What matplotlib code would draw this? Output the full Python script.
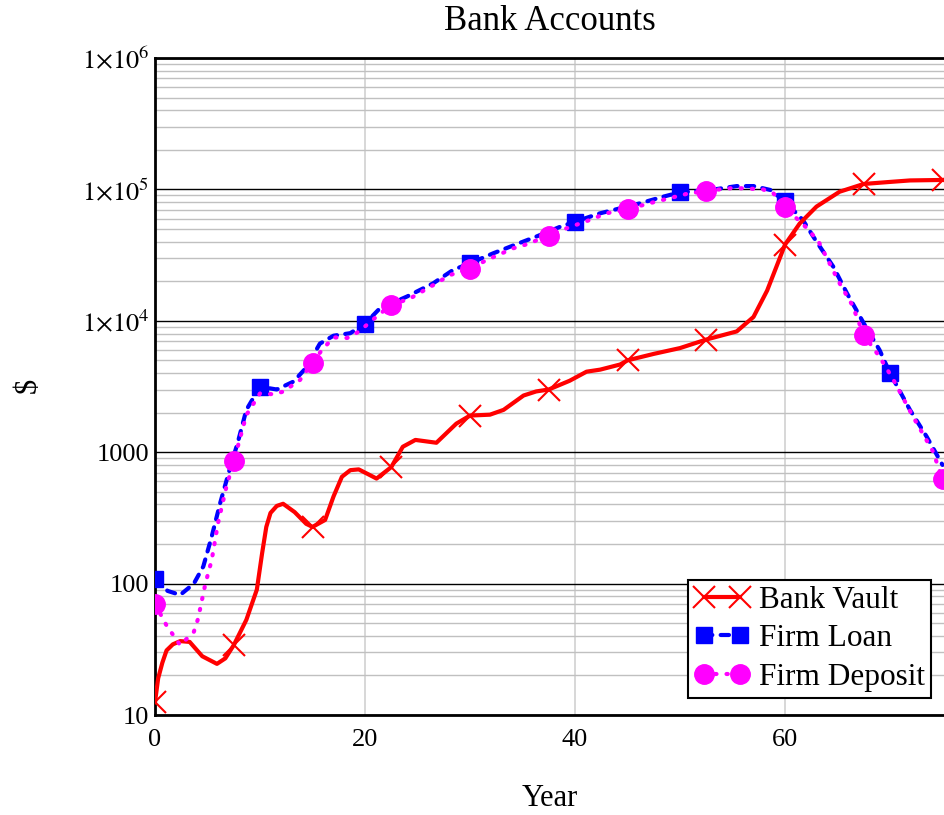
import numpy as np
import matplotlib
matplotlib.use("Agg")
import matplotlib.pyplot as plt

plt.rcParams['font.family'] = ['Liberation Serif', 'DejaVu Serif']
plt.rcParams['mathtext.fontset'] = 'stix'

# Data (year, $)
vault_year = [0, 0.3, 0.7, 1.1, 1.7, 2.4, 3.3, 4.5, 5.9, 6.7, 7.5, 8.7, 9.7, 10.2, 10.6, 11.0, 11.6,
              12.2, 13.3, 14.4, 15, 16.2, 17.0, 17.8, 18.6, 19.4, 20.3, 21.1, 22.5, 23.6, 24.8,
              26.8, 28.7, 30, 31.9, 33.2, 35.1, 36.3, 37.5, 39.5, 41.1, 42.4, 44.3, 45, 47.5,
              50, 52.5, 55.4, 57.0, 58.3, 59.2, 60, 61.4, 63.0, 65.2, 67.5, 70, 71.9, 75]
vault_val = [12.5, 19, 25, 31, 34.5, 36.5, 36, 28, 24.5, 27, 34, 53, 90, 170, 270, 345, 390,
             405, 350, 285, 270, 305, 460, 650, 730, 740, 680, 630, 770, 1100, 1240,
             1180, 1650, 1900, 1930, 2100, 2700, 2900, 3000, 3500, 4100, 4250, 4650, 5000, 5600,
             6200, 7200, 8300, 10700, 17000, 26000, 38000, 55000, 74000, 96000, 110000, 114000, 117000, 118000]

loan_year = [0, 1.2, 2.4, 3.7, 4.6, 5.4, 6.2, 7.0, 7.9, 8.7, 10, 11.6, 13.2, 14.4, 15.7,
             17.0, 18.6, 20, 21.4, 24.0, 26.5, 28.4, 30, 32.2, 34.8, 36.3, 38.6, 40,
             42.4, 44.9, 46.2, 48.4, 50, 52.9, 55.4, 57.0, 58.6, 60, 61.7, 62.9, 64.6,
             65.9, 67.5, 69.0, 70, 71.9, 73.5, 75]
loan_val = [108, 88, 82, 100, 135, 228, 408, 690, 1200, 2100, 3150, 3000, 3450, 4400, 6700,
            7700, 8050, 9500, 12400, 15300, 19300, 24400, 27400, 32600, 39300, 43700, 52000, 56800,
            65800, 73800, 78400, 88000, 95000, 99000, 106000, 106000, 99000, 81000, 58500, 41200, 25800,
            16200, 9570, 6000, 4000, 2100, 1310, 800]

dep_year = [0, 1.1, 2.4, 3.7, 4.1, 4.8, 5.4, 6.0, 6.8, 7.5, 8.7, 10, 11.3, 12.2, 13.8,
            15, 15.9, 17.0, 18.3, 19.4, 21.3, 22.5, 24.3, 26.5, 28.1, 30, 31.6, 34.1,
            35.4, 37.5, 39.2, 41.4, 43.0, 45, 47.3, 48.6, 50.6, 52.5, 54.8, 56.0, 57.9,
            58.9, 60, 62.1, 63.2, 65.2, 66.4, 67.5, 69.0, 70.3, 72.2, 74.1, 75]
dep_val = [70, 48, 34, 43, 54, 100, 151, 288, 546, 850, 1920, 2800, 2760, 2890, 3540,
           4800, 6000, 7480, 7400, 8260, 11100, 13200, 14800, 18700, 22300, 25000, 29000, 35600,
           38200, 44500, 50600, 58500, 65800, 70600, 79200, 84100, 92300, 97500, 102000, 102000, 100000,
           93300, 73000, 50600, 40000, 19300, 13200, 7800, 5330, 3590, 1860, 1010, 620]

vault_marks = [0, 7.5, 15, 22.5, 30, 37.5, 45, 52.5, 60, 67.5, 75]
loan_marks = [0, 10, 20, 30, 40, 50, 60, 70]
dep_marks = [0, 7.5, 15, 22.5, 30, 37.5, 45, 52.5, 60, 67.5, 75]


def mark_idx(xs, marks):
    return [i for i, x in enumerate(xs) if x in marks]


fig = plt.figure(figsize=(9.44, 8.15), dpi=100)
ax = fig.add_axes([155 / 944, 100 / 815, 840 / 944, 657 / 815])

ax.plot(vault_year, vault_val, color='red', lw=3, marker='x', ms=16, mew=1.5,
        markevery=mark_idx(vault_year, vault_marks), label='Bank Vault', zorder=5,
        solid_joinstyle='round')
ax.plot(loan_year, loan_val, color='blue', lw=3, ls=(0, (2.0, 2.0)), marker='s', ms=12,
        markevery=mark_idx(loan_year, loan_marks), label='Firm Loan', zorder=4,
        dash_capstyle='round')
ax.plot(dep_year, dep_val, color='magenta', lw=3, ls=(0, (0.3, 2.4)), marker='o', ms=14,
        markevery=mark_idx(dep_year, dep_marks), label='Firm Deposit', zorder=6,
        dash_capstyle='round')

ax.set_yscale('log')
ax.set_ylim(10, 1e6)
ax.set_xlim(0, 80)
ax.set_xticks([0, 20, 40, 60])
ax.set_yticks([10, 100, 1000, 1e4, 1e5, 1e6])
ax.set_yticklabels(['10', '100', '1000', r'$1{\times}10^{4}$', r'$1{\times}10^{5}$', r'$1{\times}10^{6}$'])
ax.tick_params(axis='both', which='both', length=0, labelsize=19)
ax.tick_params(axis='x', pad=10)
ax.tick_params(axis='y', pad=4)
ax.yaxis.set_minor_formatter(matplotlib.ticker.NullFormatter())

ax.grid(True, which='minor', axis='y', color='#c0c0c0', lw=1.0)
ax.grid(True, which='major', axis='y', color='black', lw=1.0)
ax.grid(True, which='major', axis='x', color='#d4d4d4', lw=1.3)
ax.set_axisbelow(True)
for s in ax.spines.values():
    s.set_linewidth(2)
ax.spines['right'].set_visible(False)

fig.text(550 / 944, 1 - 21 / 815, 'Bank Accounts', ha='center', va='center', fontsize=25)
fig.text(550 / 944, 1 - 798 / 815, 'Year', ha='center', va='center', fontsize=22)
fig.text(28 / 944, 1 - 385 / 815, '$', ha='center', va='center', fontsize=22, rotation=90)

leg = ax.legend(loc='lower right', bbox_to_anchor=(931 / 944, 1 - 698 / 815),
                bbox_transform=fig.transFigure, fontsize=22.5, numpoints=2,
                fancybox=False, framealpha=1, edgecolor='black', borderpad=0.2,
                labelspacing=0.3, handlelength=1.75, handletextpad=0.3, borderaxespad=0)
leg.get_frame().set_linewidth(1.5)

fig.savefig('out.png', dpi=100)
